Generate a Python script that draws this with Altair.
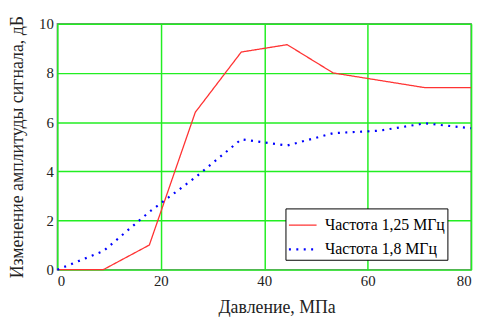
import altair as alt
import pandas as pd

pressure = [0, 8.89, 17.78, 26.67, 35.56, 44.44, 53.33, 62.22, 71.11, 80]
amp_125 = [0, 0, 1.0, 6.4, 8.85, 9.15, 8.0, 7.7, 7.4, 7.4]
amp_18 = [0, 0.75, 2.35, 3.75, 5.3, 5.05, 5.55, 5.65, 5.95, 5.75]
series = ["Частота 1,25 МГц", "Частота 1,8 МГц"]

rows = []
for name, vals in zip(series, [amp_125, amp_18]):
    for p, v in zip(pressure, vals):
        rows.append({"p": p, "v": v, "s": name})
df = pd.DataFrame(rows)

FONT = "Liberation Serif"

def make_legend():
    return alt.Legend(title=None, orient="none", legendX=231, legendY=187,
                      symbolType="stroke", symbolSize=784,
                      symbolStrokeWidth=2, labelFont=FONT, labelFontSize=16,
                      labelColor="black", labelOffset=7,
                      padding=2, rowPadding=1, strokeColor="black",
                      fillColor="white", labelLimit=300)

chart = alt.Chart(df).mark_line().encode(
    x=alt.X("p:Q", scale=alt.Scale(domain=[0, 80], nice=False),
            axis=alt.Axis(values=[0, 20, 40, 60, 80], title="Давление, МПа",
                          labelFont=FONT, titleFont=FONT,
                          titleX=222, titleY=38, titleBaseline="middle",
                          titleAnchor="start", titleAlign="center")),
    y=alt.Y("v:Q", scale=alt.Scale(domain=[0, 10], nice=False),
            axis=alt.Axis(values=[0, 2, 4, 6, 8, 10],
                          title="Изменение амплитуды сигнала, дБ",
                          labelFont=FONT, titleFont=FONT,
                          titleX=-40, titleBaseline="middle", titleAlign="center",
                          titleAngle=270)),
    color=alt.Color("s:N", scale=alt.Scale(domain=series, range=["#ff3333", "#0000ff"]),
                    legend=make_legend()),
    strokeDash=alt.StrokeDash("s:N", scale=alt.Scale(domain=series, range=[[1, 0], [2, 5.5]]),
                              legend=make_legend()),
    strokeWidth=alt.StrokeWidth("s:N", scale=alt.Scale(domain=series, range=[1.3, 2.2]), legend=None),
).properties(
    width=419, height=249,
    autosize=alt.AutoSizeParams(type="none"),
    padding={"left": 50, "top": 14, "right": 8, "bottom": 46},
).configure(
    font=FONT
).configure_view(
    stroke="#808080", strokeWidth=1.5
).configure_axis(
    grid=True, gridColor="#22ee22", gridWidth=1.5, gridOpacity=1,
    domain=False, ticks=False,
    labelFontSize=15, labelColor="#222222", labelPadding=4,
    titleFontSize=18, titleColor="#222222", titleFontWeight="normal",
)

chart.save("out.html", embed_options={"renderer": "svg", "actions": False})
